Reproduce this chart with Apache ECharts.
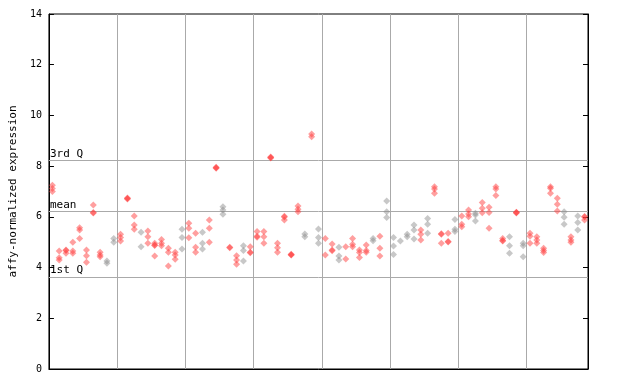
<!DOCTYPE html>
<html>
<head>
<meta charset="utf-8">
<script src="https://cdn.jsdelivr.net/npm/echarts@6/dist/echarts.min.js"></script>
<style>html,body{margin:0;padding:0;background:#fff}#c{width:640px;height:384px}</style>
</head>
<body>
<div id="c"></div>
<script>
// expression values per sample (replicates)
var sampleValues = [
  [7.25,7.12,7.0],[4.65,4.39,4.3],[4.69,4.67,4.56],[5.0,4.65,4.56],[5.57,5.48,5.15],
  [4.69,4.47,4.21],[6.47,6.17,6.15],[4.6,4.5,4.43],[4.26,4.17],[5.15,5.0],
  [5.31,5.19,5.05],[6.74,6.72,6.7],[6.03,5.68,5.51],[5.39,4.82],[5.44,5.22,4.96],
  [4.96,4.89,4.87,4.46],[5.11,4.96,4.86],[4.76,4.6,4.06],[4.6,4.5,4.33],[5.51,5.19,4.73],
  [5.75,5.55,5.18],[5.35,4.8,4.6],[5.39,4.96,4.73],[5.88,5.55,5.0],[7.96,7.94,7.92],
  [6.4,6.27,6.1],[4.8,4.78],[4.47,4.3,4.13],[4.86,4.67,4.26],[4.82,4.6,4.58],
  [5.42,5.24,5.2],[5.42,5.22,4.96],[8.36,8.34,8.32],[4.96,4.78,4.6],[6.02,5.99,5.88],
  [4.53,4.51,4.5],[6.43,6.3,6.2],[5.32,5.22],[9.27,9.16],[5.52,5.19,4.96],
  [5.15,4.5],[4.93,4.69,4.66],[4.8,4.46,4.3],[4.82,4.34],[5.15,4.92,4.82],
  [4.69,4.59,4.4],[4.89,4.67,4.6],[5.15,5.06],[5.24,4.76,4.46],[6.63,6.2,5.97],
  [5.19,4.85,4.52],[5.05],[5.31,5.22],[5.68,5.48,5.13],[5.48,5.31,5.09],
  [5.94,5.71,5.35],[7.19,7.1,6.93],[5.33,5.31,4.96],[5.35,5.03,5.01],[5.9,5.51,5.42],
  [6.03,5.71,5.61],[6.27,6.11,6.0],[6.14,6.07,5.84],[6.57,6.34,6.16],[6.38,6.17,5.55],
  [7.19,7.1,6.84],[5.15,5.07,5.05],[5.22,4.86,4.56],[6.18,6.17,6.15],[4.96,4.86,4.43],
  [5.35,5.24,4.96],[5.22,5.09,4.96],[4.76,4.67,4.59],[7.19,7.13,6.93],[6.73,6.5,6.23],
  [6.2,5.98,5.71],[5.22,5.09,5.0],[6.03,5.78,5.48],[6.01,5.99,5.88]
];
// 1 = grey sample, 0 = red sample
var greyFlags = [
  0,0,0,0,0,0,0,0,1,1,
  0,0,0,1,0,0,0,0,0,1,
  0,0,1,0,0,1,0,0,1,0,
  0,0,0,0,0,0,0,1,0,1,
  0,0,1,0,0,0,0,1,0,1,
  1,1,1,1,0,1,0,0,0,1,
  0,0,1,0,0,0,0,1,0,1,
  0,0,0,0,0,1,0,1,0
];
var refValues = [8.22, 6.21, 3.63];
var refLabels = ['3rd Q', 'mean', '1st Q'];
var yTicks = [0, 2, 4, 6, 8, 10, 12, 14];
var yTitle = 'affy-normalized expression';

var redData = [], greyData = [];
sampleValues.forEach(function (vals, i) {
  vals.forEach(function (v) {
    (greyFlags[i] ? greyData : redData).push([i + 0.5, v]);
  });
});

var mono = 'DejaVu Sans Mono';
var chart = echarts.init(document.getElementById('c'), null, {renderer: 'canvas'});
chart.setOption({
  animation: false,
  grid: {left: 44, right: 52, top: 14, bottom: 15, show: true, borderColor: '#000', borderWidth: 1, backgroundColor: 'transparent'},
  xAxis: {
    type: 'value', min: 0, max: sampleValues.length, interval: 10,
    axisLine: {show: true, lineStyle: {color: '#000'}},
    axisTick: {show: false}, axisLabel: {show: false},
    splitLine: {show: true, lineStyle: {color: '#aaaaaa', width: 1}}
  },
  yAxis: [{
    type: 'value', min: yTicks[0], max: yTicks[yTicks.length - 1], interval: 2,
    name: yTitle, nameLocation: 'middle', nameRotate: 90, nameGap: 28,
    nameTextStyle: {fontFamily: mono, fontSize: 11, color: '#000'},
    axisLine: {show: true, lineStyle: {color: '#000'}},
    axisTick: {show: true, inside: true, length: 5, lineStyle: {color: '#000'}},
    axisLabel: {fontFamily: mono, fontSize: 10, color: '#000', margin: 7},
    splitLine: {show: false}
  }, {
    type: 'value', min: yTicks[0], max: yTicks[yTicks.length - 1], interval: 2, position: 'right',
    axisLine: {show: true, lineStyle: {color: '#000'}},
    axisTick: {show: true, inside: true, length: 5, lineStyle: {color: '#000'}},
    axisLabel: {show: false}, splitLine: {show: false}
  }],
  series: [{
    type: 'scatter', name: 'grey', data: greyData, symbol: 'diamond', symbolSize: 7,
    itemStyle: {color: 'rgba(140,140,140,0.6)'}, z: 3,
    markLine: {
      silent: true, symbol: 'none', z: 1,
      lineStyle: {color: '#aaaaaa', type: 'solid', width: 1},
      label: {position: 'insideStartTop', formatter: '{b}', fontFamily: mono, fontSize: 11, color: '#000', distance: [1, 1]},
      data: refValues.map(function (v, k) { return {yAxis: v, name: refLabels[k]}; })
    }
  }, {
    type: 'scatter', name: 'red', data: redData, symbol: 'diamond', symbolSize: 7,
    itemStyle: {color: 'rgba(255,60,60,0.62)'}, z: 4
  }]
});
</script>
</body>
</html>
